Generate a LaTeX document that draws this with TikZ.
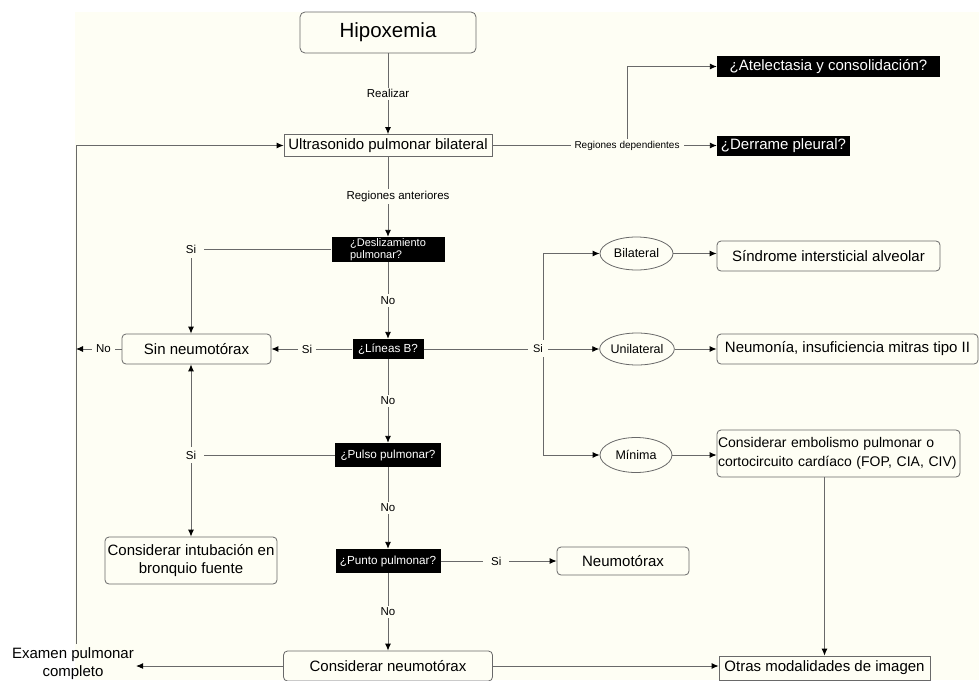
\documentclass[tikz,border=0pt]{standalone}
\usepackage{fontspec}
\setmainfont{Liberation Sans}
\usetikzlibrary{arrows.meta,shapes.geometric}
\definecolor{bgcream}{RGB}{254,254,244}
\definecolor{linegray}{RGB}{105,105,105}

\begin{document}
\begin{tikzpicture}[x=1pt,y=-1pt,
    every node/.style={inner sep=0pt},
    ln/.style={draw=linegray, line width=0.9pt},
    arr/.style={ln, -{Latex[length=7pt,width=6pt,color=black]}},
    rbox/.style={draw=linegray, line width=0.8pt, rounded corners=4pt, font=\fontsize{15}{18}\selectfont},
    sbox/.style={draw=linegray, line width=0.8pt, font=\fontsize{15}{18}\selectfont},
    qbox/.style={fill=black, text=white, font=\fontsize{11.7}{12}\selectfont},
    oval/.style={ellipse, draw=linegray, line width=0.8pt, font=\fontsize{12.5}{14}\selectfont},
    lbl/.style={fill=bgcream, inner xsep=4pt, inner ysep=2pt, font=\fontsize{11.5}{13}\selectfont}]

    % Background
    \useasboundingbox (0,0) rectangle (979,680);
    \fill[bgcream] (75,12) rectangle (979,680);

    % Define coordinates
    \coordinate (loopTop) at (76,145.5);
    \coordinate (loopBot) at (76,644);
    \coordinate (loopNo) at (76,349);
    \coordinate (dep) at (627,145.5);
    \coordinate (siA) at (191,249.5);
    \coordinate (siB) at (191,455);
    \coordinate (split) at (543,349);

    % Main column
    \node[rbox, rounded corners=5pt, minimum width=176pt, minimum height=41pt, font=\fontsize{20.5}{24}\selectfont] (hipox) at (388,32.5) {Hipoxemia};
    \node[sbox, minimum width=208pt, minimum height=22pt] (ultra) at (388,145.5) {Ultrasonido pulmonar bilateral};
    \node[qbox, minimum width=113pt, minimum height=25pt, align=left, font=\fontsize{11}{12}\selectfont] (desl) at (388,249.5) {¿Deslizamiento\\ pulmonar?};
    \node[qbox, minimum width=71pt, minimum height=20pt] (lineasb) at (388,349) {¿Líneas B?};
    \node[qbox, minimum width=106pt, minimum height=24pt] (pulso) at (388,455) {¿Pulso pulmonar?};
    \node[qbox, minimum width=105pt, minimum height=24pt] (punto) at (388,561) {¿Punto pulmonar?};
    \node[rbox, minimum width=209pt, minimum height=30pt] (consid) at (388,666) {Considerar neumotórax};

    % Left side
    \node[rbox, minimum width=149pt, minimum height=30pt] (sin) at (196.5,349) {Sin neumotórax};
    \node[rbox, minimum width=172pt, minimum height=47pt, align=center] (intub) at (191,560.5) {Considerar intubación en\\ bronquio fuente};
    \node[align=center, font=\fontsize{15}{18}\selectfont] (examen) at (73,664) {Examen pulmonar\\ completo};

    % Right side
    \node[qbox, minimum width=223pt, minimum height=21pt, font=\fontsize{15}{18}\selectfont] (atel) at (828.5,66.5) {¿Atelectasia y consolidación?};
    \node[qbox, minimum width=133pt, minimum height=20pt, font=\fontsize{15}{18}\selectfont] (derrame) at (783.5,145.5) {¿Derrame pleural?};
    \node[oval, minimum width=73pt, minimum height=33pt] (bilat) at (636.5,253.5) {Bilateral};
    \node[oval, minimum width=72pt, minimum height=32pt] (unil) at (637,349) {Unilateral};
    \node[oval, minimum width=72pt, minimum height=35pt] (minima) at (636,455) {Mínima};
    \node[rbox, minimum width=223pt, minimum height=30pt] (sindrome) at (828.5,256) {Síndrome intersticial alveolar};
    \node[rbox, minimum width=261pt, minimum height=30pt] (neumonia) at (847.5,349) {Neumonía, insuficiencia mitras tipo II};
    \node[rbox, text width=241pt, inner xsep=1pt, minimum height=47pt, align=left, font=\fontsize{14}{19}\selectfont] (embol) at (838.5,453.5) {Considerar embolismo pulmonar o\\ cortocircuito cardíaco (FOP, CIA, CIV)};
    \node[rbox, minimum width=132pt, minimum height=28pt] (neumo) at (623,561) {Neumotórax};
    \node[sbox, minimum width=211pt, minimum height=24pt] (otras) at (824.5,668) {Otras modalidades de imagen};

    % Connectors
    \draw[arr] (hipox) -- (ultra) node[lbl, midway] (lblReal) {Realizar};
    \draw[arr] (ultra) -- (desl) node[lbl, midway, xshift=10pt] (lblAnt) {Regiones anteriores};
    \draw[arr] (dep) |- (atel);
    \draw[arr] (ultra) -- (derrame) node[lbl, pos=0.6, font=\fontsize{10}{12}\selectfont] (lblDep) {Regiones dependientes};
    \draw[arr] (loopBot) -- (loopTop) -- (ultra);
    \draw[arr] (desl) -- (lineasb) node[lbl, midway] (lblNoA) {No};
    \draw[ln] (desl) -- (siA);
    \draw[arr] (siA) -- (siA |- sin.north);
    \node[lbl, inner xsep=8pt, inner ysep=4pt] (lblSiA) at (siA) {Si};
    \draw[arr] (lineasb) -- (sin) node[lbl, pos=0.56] (lblSiL) {Si};
    \draw[arr] (sin) -- (loopNo) node[lbl, pos=0.4] (lblNoL) {No};
    \draw[arr] (lineasb) -- (pulso) node[lbl, midway] (lblNoB) {No};
    \draw[ln] (pulso) -- (siB);
    \draw[arr] (siB) -- (siB |- sin.south);
    \draw[arr] (siB) -- (siB |- intub.north);
    \node[lbl, inner xsep=8pt, inner ysep=4pt] (lblSiB) at (siB) {Si};
    \draw[arr] (pulso) -- (punto) node[lbl, midway] (lblNoC) {No};
    \draw[arr] (punto) -- (neumo) node[lbl, pos=0.48, inner xsep=8pt] (lblSiP) {Si};
    \draw[arr] (punto) -- (consid) node[lbl, midway] (lblNoD) {No};
    \draw[arr] (consid.west) -- ([xshift=2pt]consid.west -| examen.east);
    \draw[arr] (consid.east) -- (consid.east -| otras.west);
    \draw[arr] (embol.south -| otras.north) -- (otras.north);

    % B-lines branch
    \draw[ln] (lineasb) -- (split);
    \draw[arr] (split) |- (bilat);
    \draw[arr] (split) -- (unil);
    \draw[arr] (split) |- (minima);
    \node[lbl, inner xsep=5pt, inner ysep=4pt, font=\fontsize{11}{13}\selectfont] (lblSiC) at (538,348.5) {Si};
    \draw[arr] (bilat.east) -- (bilat.east -| sindrome.west);
    \draw[arr] (unil) -- (neumonia);
    \draw[arr] (minima.east) -- (minima.east -| embol.west);
\end{tikzpicture}
\end{document}
